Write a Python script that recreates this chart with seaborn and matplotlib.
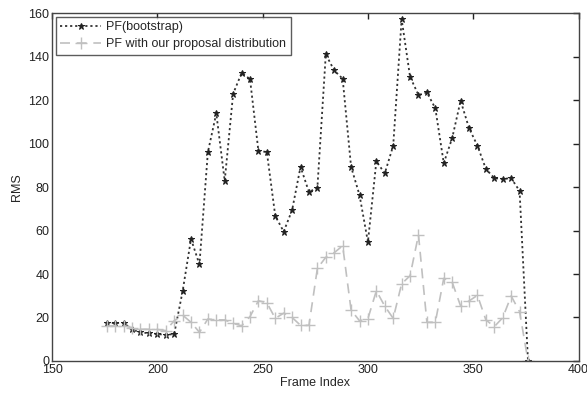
import numpy as np
import pandas as pd
import matplotlib
matplotlib.use("Agg")
import matplotlib.pyplot as plt
import seaborn as sns

# frame indices (every 4th frame)
frames = list(range(176, 377, 4))

rms_bootstrap = [17.5, 17.5, 17.5, 14.5, 13.1, 12.8, 12.4, 12.0, 12.4, 32.0,
                 56.1, 44.4, 96.0, 113.9, 82.8, 122.9, 132.4, 129.7, 96.6, 96.1,
                 66.7, 59.5, 69.4, 89.3, 77.7, 79.7, 141.0, 133.6, 129.8, 89.3,
                 76.3, 54.7, 91.8, 86.3, 99.0, 157.2, 130.7, 122.3, 123.5, 116.2,
                 91.0, 102.5, 119.7, 107.1, 99.0, 88.3, 84.1, 83.7, 84.1, 78.2,
                 0.0]

rms_proposal = [16.0, 16.3, 16.3, 15.2, 14.6, 14.6, 14.5, 14.0, 18.5, 21.1,
                17.8, 13.2, 19.3, 18.9, 18.9, 17.3, 16.2, 20.4, 27.7, 26.8,
                19.6, 22.0, 20.0, 16.4, 16.4, 42.6, 47.7, 49.8, 53.0, 23.4,
                18.5, 19.5, 32.3, 25.2, 19.6, 35.5, 39.2, 58.0, 17.8, 17.8,
                38.0, 36.2, 25.3, 27.6, 30.2, 18.9, 15.8, 19.9, 29.9, 22.7,
                0.0]

labels = ["PF(bootstrap)", "PF with our proposal distribution"]

sns.set_style("white")
plt.rcParams['font.family'] = ['Liberation Sans', 'DejaVu Sans']
plt.rcParams['font.size'] = 9

df = pd.DataFrame({"Frame Index": frames,
                   labels[0]: rms_bootstrap,
                   labels[1]: rms_proposal})

fig = plt.figure(figsize=(5.87, 3.94), dpi=100)
ax = fig.add_axes([0.0886, 0.0838, 0.897, 0.883])

sns.lineplot(data=df, x="Frame Index", y=labels[0], ax=ax, label=labels[0],
             color="#333333", linestyle=(0, (1.2, 1.6)), linewidth=1.3,
             marker="*", markersize=5, markeredgecolor="#222222",
             markerfacecolor="#222222")
sns.lineplot(data=df, x="Frame Index", y=labels[1], ax=ax, label=labels[1],
             color="#c0c0c0", linestyle=(0, (6, 4)), linewidth=1.2,
             marker="+", markersize=8, markeredgewidth=1.0,
             markeredgecolor="#c0c0c0")

ax.set_xlim(150, 400)
ax.set_ylim(0, 160)
ax.set_xticks([150, 200, 250, 300, 350, 400])
ax.set_yticks([0, 20, 40, 60, 80, 100, 120, 140, 160])
ax.set_xlabel("Frame Index", fontsize=9, labelpad=1)
ax.set_ylabel("RMS", fontsize=9, labelpad=4)
ax.tick_params(direction="in", length=4, width=1, top=True, right=True,
               labelsize=9, colors="#222222", pad=2)
for s in ax.spines.values():
    s.set_color("#444444")
    s.set_linewidth(1.0)

leg = ax.legend(loc="upper left", frameon=True, fancybox=False,
                borderaxespad=0.3, handlelength=3.3, handletextpad=0.4,
                fontsize=9, borderpad=0.35, labelspacing=0.4)
leg.get_frame().set_edgecolor("#333333")
leg.get_frame().set_linewidth(1.0)

fig.savefig("out.png", dpi=100)
